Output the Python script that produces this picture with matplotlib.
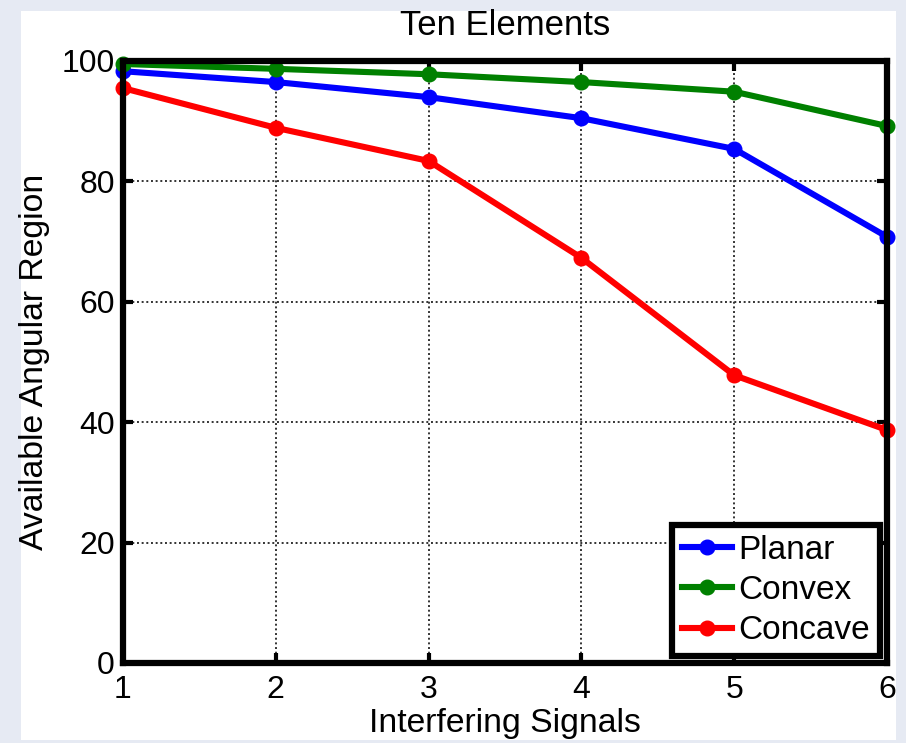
import matplotlib
matplotlib.use("Agg")
import matplotlib.pyplot as plt
from matplotlib.patches import Rectangle

plt.rcParams['font.family'] = ['Liberation Sans', 'DejaVu Sans']

signals = [1, 2, 3, 4, 5, 6]
planar = [98.3, 96.5, 94.0, 90.5, 85.4, 70.8]
convex = [99.5, 98.7, 97.8, 96.5, 94.9, 89.2]
concave = [95.5, 88.9, 83.4, 67.3, 47.8, 38.7]
series_names = ['Planar', 'Convex', 'Concave']
series_colors = ['#0000ff', '#008000', '#ff0000']
y_ticks = [0, 20, 40, 60, 80, 100]

W, H = 906, 743
fig = plt.figure(figsize=(W / 100, H / 100), dpi=100)
fig.patch.set_facecolor('#e6eaf3')

# white panel behind the axes
fig.patches.append(Rectangle((21 / W, 3 / H), 875 / W, 729 / H,
                             transform=fig.transFigure, facecolor='white',
                             edgecolor='none', zorder=-5))

ax = fig.add_axes([123 / W, 80 / H, 764 / W, 602 / H])
ax.set_zorder(2)
ax.set_facecolor('white')

for vals, name, col in zip([planar, convex, concave], series_names, series_colors):
    ax.plot(signals, vals, '-o', color=col, lw=4.4, ms=10.5, label=name,
            clip_on=False, zorder=3)

ax.set_xlim(1, 6)
ax.set_ylim(0, 100)
ax.set_xticks(signals)
ax.set_yticks(y_ticks)
ax.grid(True, color='#333333', linestyle=(0, (1, 1.4)), linewidth=1.4)

for s in ax.spines.values():
    s.set_linewidth(4.5)
    s.set_color('black')
    s.set_zorder(4)

ax.tick_params(direction='in', length=7, width=3, top=True, right=True,
               labelsize=23, colors='black')
ax.tick_params(axis='x', pad=9)
ax.tick_params(axis='y', pad=6)

ax.set_title('Ten Elements', fontsize=25, pad=19)
ax.set_xlabel('Interfering Signals', fontsize=24.3, labelpad=2)
ax.set_ylabel('Available Angular Region', fontsize=24.3, labelpad=8)

leg = ax.legend(loc='lower right', fontsize=24, fancybox=False,
                framealpha=1, edgecolor='black', handlelength=1.5,
                handletextpad=0.2, labelspacing=0.28, borderpad=0.3,
                borderaxespad=0.2)
leg.get_frame().set_linewidth(4.5)
leg.set_zorder(5)

fig.savefig('out.png', dpi=100, facecolor=fig.get_facecolor())
